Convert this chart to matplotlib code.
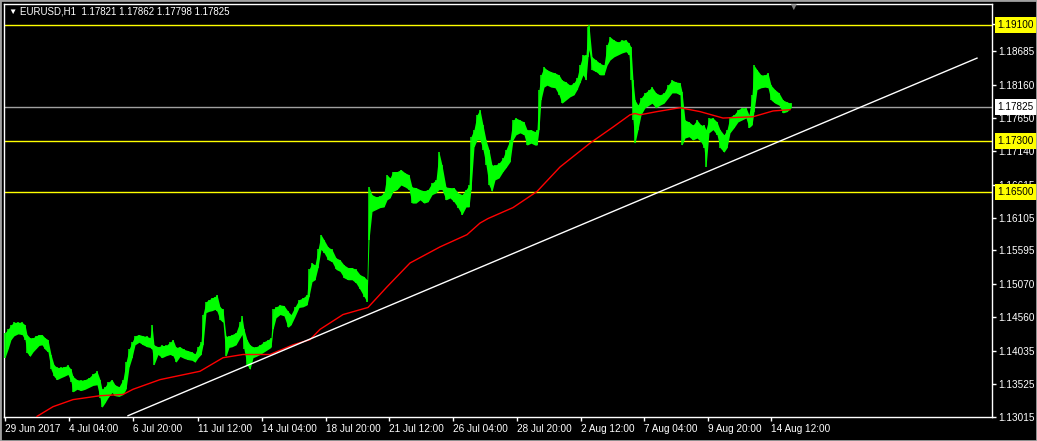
import matplotlib
matplotlib.use("Agg")
import matplotlib.pyplot as plt
import matplotlib.transforms as mtransforms
from matplotlib.patches import Rectangle

plt.rcParams['font.family'] = ['Liberation Sans', 'DejaVu Sans']

# H1 bars, one bar per pixel column; sampled every few bars (high / low)
bars = [5, 8, 11, 14, 18, 22, 25, 27, 30, 33, 36, 39, 42, 45,
        48, 51, 54, 57, 61, 64, 68, 71, 73, 77, 81, 85, 89, 93, 97,
        100, 102, 105, 108, 112, 115, 119, 123, 126, 129, 132, 135, 139, 143, 147, 150, 152, 154, 158,
        162, 166, 170, 173, 176, 180, 184, 188, 192, 195, 198, 201, 203, 206, 209, 212, 215, 217, 220, 223,
        226, 229, 232, 236, 240, 242, 244, 247, 250, 253, 256, 260, 264, 268, 271, 273, 276, 280, 284, 288,
        291, 295, 299, 303, 307, 309, 312, 315, 318, 321, 324, 328, 332, 336, 340, 344, 348, 352, 356, 360,
        364, 367, 369, 372, 376, 380, 384, 387, 390, 393, 397, 401, 405, 409, 412, 416, 420, 424, 428, 432,
        436, 439, 442, 446, 450, 454, 458, 462, 466, 469, 471, 474, 477, 480, 483, 486, 489, 492, 495, 499,
        503, 506, 510, 513, 516, 520, 524, 527, 531, 535, 537, 539, 541, 544, 547, 551, 555, 559, 562, 566,
        570, 574, 577, 580, 583, 586, 588, 589, 592, 596, 600, 604, 607, 610, 614, 618, 622, 626, 629, 631,
        633, 635, 638, 641, 645, 649, 652, 656, 660, 664, 668, 672, 676, 680, 682, 685, 689, 693, 697, 701,
        704, 706, 709, 713, 717, 720, 724, 727, 730, 734, 738, 742, 746, 749, 752, 754, 757, 761, 765, 768,
        771, 775, 779, 783, 787, 791]

highs = [1.1432, 1.1437, 1.1444, 1.1448, 1.1448, 1.1448, 1.1444, 1.1429, 1.1424, 1.1424, 1.1427, 1.1429, 1.1429, 1.1424,
         1.1421, 1.1398, 1.1382, 1.1378, 1.1378, 1.1379, 1.1381, 1.1375, 1.1364, 1.1359, 1.1358, 1.1359, 1.1362, 1.1368, 1.1372,
         1.1359, 1.1344, 1.1348, 1.1355, 1.1359, 1.1351, 1.1348, 1.1359, 1.1386, 1.1406, 1.1417, 1.1427, 1.1429, 1.1427, 1.1426, 1.1424, 1.1444, 1.1413, 1.1410,
         1.1412, 1.1412, 1.1417, 1.1421, 1.1409, 1.1410, 1.1406, 1.1404, 1.1402, 1.1399, 1.1410, 1.1417, 1.1460, 1.1480, 1.1483, 1.1486, 1.1488, 1.1491, 1.1472, 1.1468,
         1.1426, 1.1427, 1.1429, 1.1432, 1.1449, 1.1457, 1.1437, 1.1421, 1.1413, 1.1410, 1.1410, 1.1413, 1.1418, 1.1421, 1.1424, 1.1468, 1.1472, 1.1475, 1.1474, 1.1465,
         1.1460, 1.1472, 1.1483, 1.1486, 1.1491, 1.1530, 1.1540, 1.1537, 1.1561, 1.1584, 1.1576, 1.1565, 1.1561, 1.1548, 1.1545, 1.1537, 1.1533, 1.1533, 1.1530, 1.1522,
         1.1519, 1.1514, 1.1658, 1.1646, 1.1643, 1.1644, 1.1649, 1.1677, 1.1672, 1.1682, 1.1682, 1.1685, 1.1680, 1.1677, 1.1658, 1.1657, 1.1654, 1.1652, 1.1654, 1.1664,
         1.1669, 1.1712, 1.1692, 1.1658, 1.1657, 1.1657, 1.1649, 1.1646, 1.1654, 1.1661, 1.1736, 1.1747, 1.1770, 1.1778, 1.1754, 1.1731, 1.1716, 1.1692, 1.1692, 1.1695,
         1.1703, 1.1716, 1.1731, 1.1762, 1.1765, 1.1762, 1.1759, 1.1747, 1.1747, 1.1744, 1.1747, 1.1809, 1.1832, 1.1844, 1.1840, 1.1837, 1.1835, 1.1832, 1.1824, 1.1821,
         1.1816, 1.1820, 1.1827, 1.1847, 1.1863, 1.1863, 1.1906, 1.1909, 1.1860, 1.1855, 1.1850, 1.1847, 1.1878, 1.1891, 1.1886, 1.1883, 1.1886, 1.1886, 1.1881, 1.1875,
         1.1824, 1.1793, 1.1785, 1.1796, 1.1804, 1.1809, 1.1813, 1.1804, 1.1801, 1.1804, 1.1816, 1.1824, 1.1821, 1.1820, 1.1806, 1.1762, 1.1759, 1.1754, 1.1762, 1.1754,
         1.1754, 1.1747, 1.1765, 1.1765, 1.1759, 1.1747, 1.1739, 1.1747, 1.1767, 1.1770, 1.1778, 1.1781, 1.1781, 1.1770, 1.1801, 1.1847, 1.1840, 1.1832, 1.1832, 1.1835,
         1.1816, 1.1809, 1.1804, 1.1793, 1.1790, 1.1788]

lows = [1.1393, 1.1406, 1.1421, 1.1427, 1.1430, 1.1429, 1.1421, 1.1401, 1.1395, 1.1402, 1.1407, 1.1412, 1.1413, 1.1406,
        1.1402, 1.1375, 1.1364, 1.1359, 1.1362, 1.1364, 1.1367, 1.1356, 1.1340, 1.1344, 1.1342, 1.1344, 1.1347, 1.1350, 1.1351,
        1.1331, 1.1316, 1.1323, 1.1331, 1.1339, 1.1334, 1.1333, 1.1336, 1.1344, 1.1378, 1.1393, 1.1413, 1.1417, 1.1413, 1.1410, 1.1409, 1.1406, 1.1382, 1.1398,
        1.1393, 1.1396, 1.1398, 1.1396, 1.1386, 1.1395, 1.1392, 1.1390, 1.1389, 1.1386, 1.1393, 1.1398, 1.1413, 1.1463, 1.1465, 1.1466, 1.1468, 1.1465, 1.1452, 1.1448,
        1.1395, 1.1409, 1.1410, 1.1413, 1.1424, 1.1429, 1.1406, 1.1382, 1.1375, 1.1393, 1.1395, 1.1398, 1.1402, 1.1406, 1.1409, 1.1437, 1.1455, 1.1460, 1.1458, 1.1440,
        1.1444, 1.1457, 1.1471, 1.1472, 1.1475, 1.1488, 1.1511, 1.1514, 1.1533, 1.1561, 1.1556, 1.1545, 1.1542, 1.1530, 1.1527, 1.1517, 1.1514, 1.1514, 1.1509, 1.1499,
        1.1488, 1.1480, 1.1576, 1.1620, 1.1623, 1.1626, 1.1627, 1.1638, 1.1641, 1.1651, 1.1654, 1.1661, 1.1658, 1.1654, 1.1633, 1.1633, 1.1638, 1.1633, 1.1635, 1.1646,
        1.1649, 1.1654, 1.1654, 1.1638, 1.1641, 1.1635, 1.1626, 1.1615, 1.1627, 1.1627, 1.1654, 1.1720, 1.1731, 1.1731, 1.1716, 1.1692, 1.1661, 1.1651, 1.1669, 1.1672,
        1.1682, 1.1688, 1.1697, 1.1731, 1.1739, 1.1742, 1.1739, 1.1723, 1.1726, 1.1723, 1.1723, 1.1747, 1.1793, 1.1813, 1.1816, 1.1813, 1.1812, 1.1801, 1.1788, 1.1793,
        1.1798, 1.1801, 1.1809, 1.1820, 1.1832, 1.1824, 1.1860, 1.1871, 1.1840, 1.1837, 1.1832, 1.1832, 1.1847, 1.1855, 1.1860, 1.1863, 1.1866, 1.1868, 1.1863, 1.1824,
        1.1762, 1.1726, 1.1747, 1.1770, 1.1781, 1.1785, 1.1788, 1.1781, 1.1785, 1.1788, 1.1796, 1.1804, 1.1804, 1.1801, 1.1723, 1.1734, 1.1736, 1.1731, 1.1734, 1.1728,
        1.1719, 1.1689, 1.1742, 1.1747, 1.1739, 1.1719, 1.1712, 1.1719, 1.1742, 1.1750, 1.1759, 1.1762, 1.1765, 1.1750, 1.1754, 1.1775, 1.1809, 1.1812, 1.1813, 1.1812,
        1.1793, 1.1788, 1.1785, 1.1773, 1.1775, 1.1781]

# moving average (red)
ma_bars = [37, 53, 73, 100, 123, 133, 160, 200, 223, 243, 270, 293, 310, 320, 343, 368, 387, 410,
           440, 467, 480, 488, 513, 537, 560, 590, 613, 630, 635, 640, 657, 680, 700, 723, 753, 773, 790]
ma_vals = [1.1302, 1.1317, 1.1328, 1.1334, 1.1336, 1.1344, 1.1359, 1.1372, 1.1393, 1.1398, 1.1398, 1.1413,
           1.1421, 1.1437, 1.1460, 1.1471, 1.1503, 1.1540, 1.1565, 1.1584, 1.1602, 1.1609, 1.1626, 1.1651,
           1.1689, 1.1726, 1.1751, 1.1770, 1.1772, 1.1770, 1.1775, 1.1781, 1.1775, 1.1765, 1.1767, 1.1776, 1.1778]

# trend line (white)
trend_bars = [128, 977]
trend_vals = [1.1303, 1.1858]

levels = [1.19100, 1.17300, 1.16500]
bid = 1.17825

price_ticks = [1.19105, 1.18685, 1.18160, 1.17650, 1.17140, 1.16615, 1.16105,
               1.15595, 1.15070, 1.14560, 1.14035, 1.13525, 1.13015]
date_ticks = [5, 69, 133, 198, 262, 326, 389, 453, 517, 581, 644, 708, 771]
date_labels = ['29 Jun 2017', '4 Jul 04:00', '6 Jul 20:00', '11 Jul 12:00', '14 Jul 04:00',
               '18 Jul 20:00', '21 Jul 12:00', '26 Jul 04:00', '28 Jul 20:00', '2 Aug 12:00',
               '7 Aug 04:00', '9 Aug 20:00', '14 Aug 12:00']
header = 'EURUSD,H1  1.17821 1.17862 1.17798 1.17825'

W, H = 1037, 441
fig = plt.figure(figsize=(W / 100, H / 100), dpi=100, facecolor='black')
ax = fig.add_axes([4 / W, (H - 417) / H, 988 / W, 413 / H], facecolor='black')
ax.set_xlim(4, 992)
ax.set_ylim(1.1301, 1.1942)

green = '#00ff00'
ax.fill_between(bars, lows, highs, color=green, lw=0, zorder=3)
ax.vlines(bars, lows, highs, color=green, lw=1.1, zorder=3)
ax.plot(ma_bars, ma_vals, color='#ff0000', lw=1, zorder=4)
ax.plot(trend_bars, trend_vals, color='white', lw=1, zorder=4)
for lv in levels:
    ax.axhline(lv, color='#ffff00', lw=1, zorder=2)
ax.axhline(bid, color='#a0a0a0', lw=1, zorder=2)

for s in ax.spines.values():
    s.set_color('white')
    s.set_linewidth(1)

ax.yaxis.tick_right()
ax.set_yticks(price_ticks, [f'{v:.5f}' for v in price_ticks])
ax.set_xticks(date_ticks, date_labels)
for lab in ax.get_xticklabels():
    lab.set_ha('left')
ax.tick_params(axis='both', colors='white', labelsize=7.2, length=3, width=1, direction='out')
ax.tick_params(axis='x', pad=2)
ax.tick_params(axis='y', pad=1.5)

# price labels for the horizontal lines on the right scale
trans = mtransforms.blended_transform_factory(ax.transAxes, ax.transData)
box_x = 1 + 5.5 / 988
for lv in levels:
    ax.text(box_x, lv, f'{lv:.5f}', transform=trans, fontsize=7.2, color='black', va='center', ha='left',
            bbox=dict(boxstyle='square,pad=0.3', fc='#ffff00', ec='none'), clip_on=False, zorder=10)
ax.text(box_x, bid, f'{bid:.5f}', transform=trans, fontsize=7.2, color='black', va='center', ha='left',
        bbox=dict(boxstyle='square,pad=0.3', fc='white', ec='none'), clip_on=False, zorder=10)

# header
fig.text(8 / W, 1 - 12 / H, '\u25bc', color='white', fontsize=6, va='center', ha='left')
fig.text(20 / W, 1 - 12 / H, header, color='white', fontsize=7, va='center', ha='left')
# chart shift marker
fig.text(793 / W, 1 - 7 / H, '\u25bc', color='#808080', fontsize=7, va='center', ha='center')

fig.patches.append(Rectangle((0, 0), 1, 1, transform=fig.transFigure, fill=False,
                             ec='#a0a0a0', lw=2))

fig.savefig('out.png', dpi=100, facecolor='black')
